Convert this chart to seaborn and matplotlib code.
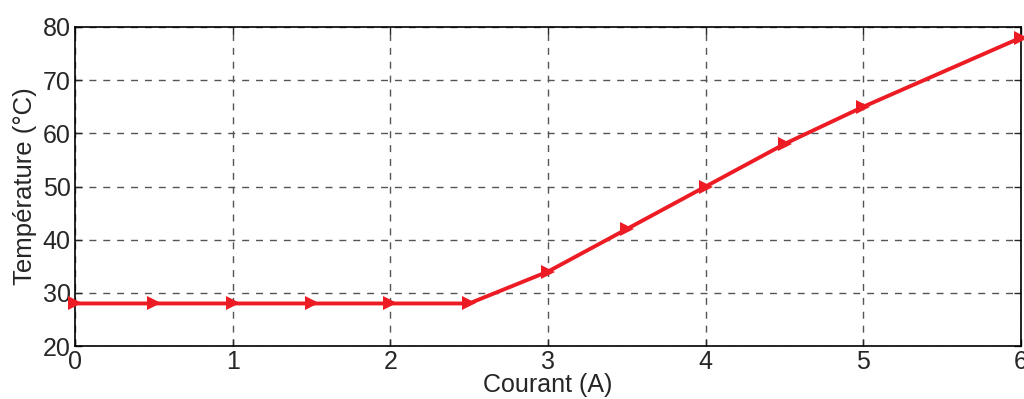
import matplotlib
matplotlib.use("Agg")
import matplotlib.pyplot as plt
import seaborn as sns
import pandas as pd

courant = [0, 0.5, 1, 1.5, 2, 2.5, 3, 3.5, 4, 4.5, 5, 6]
temperature = [28, 28, 28, 28, 28, 28, 34, 42, 50, 58, 65, 78]
xticks = [0, 1, 2, 3, 4, 5, 6]
yticks = [20, 30, 40, 50, 60, 70, 80]

sns.set_style("white")
plt.rcParams['font.family'] = ['Liberation Sans', 'DejaVu Sans']

df = pd.DataFrame({"Courant": courant, "Temperature": temperature})

fig = plt.figure(figsize=(10.24, 3.99), dpi=100)
ax = fig.add_axes([75 / 1024, 1 - 346 / 399, 946 / 1024, 319 / 399])

sns.lineplot(data=df, x="Courant", y="Temperature", ax=ax, color="#ED1C24",
             linewidth=2.8, marker=">", markersize=10, markeredgewidth=0,
             clip_on=False, zorder=5)

ax.set_xlim(0, 6)
ax.set_ylim(20, 80)
ax.set_xticks(xticks)
ax.set_yticks(yticks)
ax.grid(True, color="#555555", linestyle=(0, (5, 5)), linewidth=1.0)
ax.tick_params(direction="in", length=5, width=1, labelsize=18, pad=3,
               top=True, right=True, bottom=True, left=True)
for s in ax.spines.values():
    s.set_color("black")
    s.set_linewidth(1.2)

ax.set_xlabel("Courant (A)", fontsize=18, labelpad=-1)
ax.set_ylabel("Température (°C)", fontsize=18.5, labelpad=4)

fig.savefig("out.png", dpi=100)
